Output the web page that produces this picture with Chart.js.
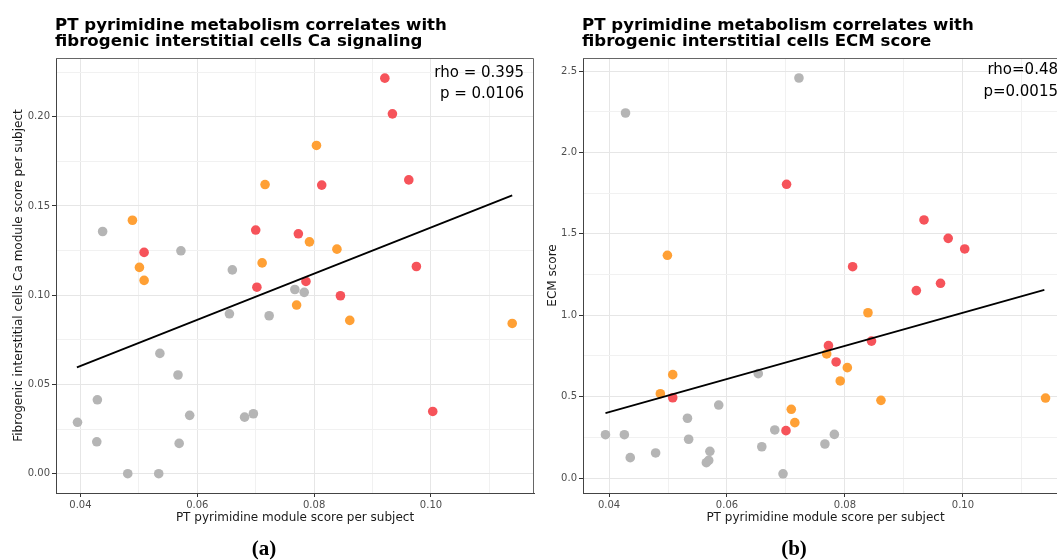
<!DOCTYPE html>
<html>
<head>
<meta charset="utf-8">
<script src="https://cdn.jsdelivr.net/npm/chart.js@4.4.1/dist/chart.umd.min.js"></script>
<style>
  html, body { margin: 0; padding: 0; background: #fff; overflow: hidden; width: 1057px; height: 560px; }
  canvas { position: absolute; top: 0; }
  #chartA { left: 0; }
  #chartB { left: 540px; }
</style>
</head>
<body>
<canvas id="chartA" width="545" height="560"></canvas>
<canvas id="chartB" width="540" height="560"></canvas>
<script>
// ================= DATA (a) Ca signaling =================
const grayXa = [0.0438, 0.0572, 0.0660, 0.0655, 0.0723, 0.0536, 0.0567, 0.0429, 0.0395, 0.0587, 0.0681, 0.0696, 0.0428, 0.0569, 0.0481, 0.0534, 0.0767, 0.0783];
const grayYa = [0.1357, 0.1249, 0.1142, 0.0896, 0.0885, 0.0674, 0.0553, 0.0414, 0.0288, 0.0327, 0.0317, 0.0336, 0.0179, 0.0170, 0.0000, 0.0000, 0.1032, 0.1016];
const orangeXa = [0.0489, 0.0501, 0.0509, 0.0716, 0.0711, 0.0804, 0.0792, 0.0839, 0.0770, 0.0861, 0.1139];
const orangeYa = [0.1420, 0.1156, 0.1083, 0.1620, 0.1181, 0.1839, 0.1299, 0.1258, 0.0945, 0.0859, 0.0842];
const redXa = [0.0509, 0.0700, 0.0702, 0.0921, 0.0934, 0.0813, 0.0962, 0.0773, 0.0975, 0.0786, 0.0845, 0.1003];
const redYa = [0.1240, 0.1365, 0.1045, 0.2216, 0.2016, 0.1617, 0.1646, 0.1344, 0.1161, 0.1077, 0.0997, 0.0349];
const fitXa = [0.0394, 0.1139];
const fitYa = [0.0596, 0.1559];

// ================= DATA (b) ECM score =================
const grayXb = [0.0428, 0.0722, 0.0782, 0.0766, 0.0653, 0.0586, 0.0533, 0.0535, 0.0394, 0.0426, 0.0436, 0.0479, 0.0571, 0.0569, 0.0565, 0.0659, 0.0681, 0.0695];
const grayYb = [2.242, 2.457, 0.268, 0.209, 0.641, 0.448, 0.367, 0.238, 0.266, 0.266, 0.125, 0.154, 0.164, 0.108, 0.094, 0.192, 0.295, 0.026];
const orangeXb = [0.0499, 0.0839, 0.0769, 0.0804, 0.0792, 0.0861, 0.1140, 0.0508, 0.0487, 0.0709, 0.0715];
const orangeYb = [1.368, 1.015, 0.762, 0.678, 0.596, 0.477, 0.491, 0.635, 0.518, 0.422, 0.340];
const redXb = [0.0701, 0.0934, 0.0975, 0.1003, 0.0813, 0.0921, 0.0962, 0.0772, 0.0845, 0.0785, 0.0508, 0.0700];
const redYb = [1.804, 1.585, 1.472, 1.407, 1.298, 1.151, 1.196, 0.813, 0.841, 0.713, 0.493, 0.291];
const fitXb = [0.0394, 0.1138];
const fitYb = [0.399, 1.155];

// ================= TICKS =================
const xTicks = [0.04, 0.05, 0.06, 0.07, 0.08, 0.09, 0.10, 0.11];
const xMajor = [0.04, 0.06, 0.08, 0.10];
const yTicksA = [0, 0.025, 0.05, 0.075, 0.10, 0.125, 0.15, 0.175, 0.20, 0.225];
const yMajorA = [0, 0.05, 0.10, 0.15, 0.20];
const yTicksB = [0, 0.25, 0.5, 0.75, 1.0, 1.25, 1.5, 1.75, 2.0, 2.25, 2.5];
const yMajorB = [0, 0.5, 1.0, 1.5, 2.0, 2.5];

const FONT = "'DejaVu Sans', sans-serif";
const RED = "#f6535a";
const ORANGE = "#ffa035";
const GRAY = "#b5b5b5";

// ================= UTIL =================
function pts(xs, ys) {
  return xs.map((x, i) => ({ x, y: ys[i] }));
}

function makeScale(allTicks, major, digits, min, max, extra) {
  const isMajor = v => major.some(m => Math.abs(m - v) < 1e-9);
  return Object.assign({
    type: "linear",
    min, max,
    afterBuildTicks: s => { s.ticks = allTicks.map(v => ({ value: v })); },
    ticks: {
      autoSkip: false,
      maxRotation: 0,
      font: { family: FONT, size: 10 },
      color: "#4d4d4d",
      padding: 2,
      callback: v => isMajor(v) ? v.toFixed(digits) : ""
    },
    grid: {
      color: c => (c.tick && isMajor(c.tick.value)) ? "#e6e6e6" : "#f1f1f1",
      lineWidth: 1,
      tickLength: 4,
      tickColor: c => (c.tick && isMajor(c.tick.value)) ? "#333" : "rgba(0,0,0,0)"
    },
    border: { display: true, color: "#444", width: 1 }
  }, extra);
}

function textPlugin(cfg) {
  return {
    id: "panelText",
    afterDraw(chart) {
      const { ctx, chartArea: a } = chart;
      ctx.save();
      // top / right frame
      ctx.strokeStyle = "#666";
      ctx.lineWidth = 1;
      ctx.beginPath();
      ctx.moveTo(a.left, a.top + 0.5);
      ctx.lineTo(a.right - 0.5, a.top + 0.5);
      ctx.lineTo(a.right - 0.5, a.bottom);
      ctx.stroke();

      ctx.fillStyle = "#000";
      ctx.textBaseline = "alphabetic";
      ctx.textAlign = "left";
      ctx.font = "bold 16.6px " + FONT;
      cfg.title.forEach((t, i) => ctx.fillText(t, a.left - 1, 29.5 + i * 16));

      ctx.textAlign = "right";
      ctx.font = "15px " + FONT;
      cfg.stats.forEach((t, i) => ctx.fillText(t, a.right - 10, cfg.statsY[i]));

      ctx.textAlign = "center";
      ctx.font = "bold 21px 'Liberation Serif', serif";
      ctx.fillText(cfg.caption, cfg.captionX, 555);
      ctx.restore();
    }
  };
}

function makePanel(id, p) {
  return new Chart(document.getElementById(id), {
    type: "scatter",
    data: {
      datasets: [
        { data: pts(p.fitX, p.fitY), showLine: true, borderColor: "#000", borderWidth: 1.8, pointRadius: 0, fill: false },
        { data: pts(p.redX, p.redY), backgroundColor: RED, borderWidth: 0, pointRadius: 4.8 },
        { data: pts(p.orangeX, p.orangeY), backgroundColor: ORANGE, borderWidth: 0, pointRadius: 4.8 },
        { data: pts(p.grayX, p.grayY), backgroundColor: GRAY, borderWidth: 0, pointRadius: 4.8 }
      ]
    },
    options: {
      responsive: false,
      animation: false,
      events: [],
      layout: { padding: { left: 0, top: 58, right: p.padRight, bottom: 0 } },
      plugins: { legend: { display: false }, tooltip: { enabled: false } },
      scales: {
        x: makeScale(xTicks, xMajor, 2, p.xMin, p.xMax, {
          afterFit: s => { s.height = 67; },
          title: { display: true, text: "PT pyrimidine module score per subject", color: "#1a1a1a", font: { family: FONT, size: 12 }, padding: { top: 0, bottom: 35 } }
        }),
        y: makeScale(p.yTicks, p.yMajor, p.yDigits, p.yMin, p.yMax, {
          afterFit: s => { s.width = p.yWidth; },
          title: { display: true, text: p.yTitle, color: "#1a1a1a", font: { family: FONT, size: 12 }, padding: { top: p.yTitlePad, bottom: 0 } }
        })
      }
    },
    plugins: [textPlugin(p)]
  });
}

// ================= PANELS =================
makePanel("chartA", {
  grayX: grayXa, grayY: grayYa, orangeX: orangeXa, orangeY: orangeYa, redX: redXa, redY: redYa,
  fitX: fitXa, fitY: fitYa,
  xMin: 0.03582, xMax: 0.11763, yMin: -0.0108, yMax: 0.2329,
  yTicks: yTicksA, yMajor: yMajorA, yDigits: 2,
  yWidth: 56, padRight: 11, yTitlePad: 12,
  yTitle: "Fibrogenic interstitial cells Ca module score per subject",
  title: ["PT pyrimidine metabolism correlates with", "fibrogenic interstitial cells Ca signaling"],
  stats: ["rho = 0.395", "p = 0.0106"], statsY: [77, 98],
  caption: "(a)", captionX: 264
});

makePanel("chartB", {
  grayX: grayXb, grayY: grayYb, orangeX: orangeXb, orangeY: orangeYb, redX: redXb, redY: redYb,
  fitX: fitXb, fitY: fitYb,
  xMin: 0.03559, xMax: 0.11781, yMin: -0.0921, yMax: 2.5799,
  yTicks: yTicksB, yMajor: yMajorB, yDigits: 1,
  yWidth: 43, padRight: 12, yTitlePad: 6,
  yTitle: "ECM score",
  title: ["PT pyrimidine metabolism correlates with", "fibrogenic interstitial cells ECM score"],
  stats: ["rho=0.48", "p=0.0015"], statsY: [73.5, 95.5],
  caption: "(b)", captionX: 254
});
</script>
</body>
</html>
